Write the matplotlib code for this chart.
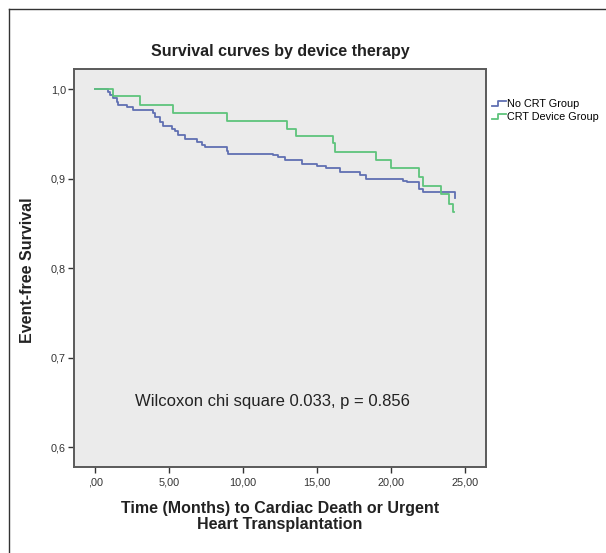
import matplotlib
matplotlib.use("Agg")
import matplotlib.pyplot as plt
from matplotlib.lines import Line2D
from matplotlib.legend_handler import HandlerBase

plt.rcParams["font.family"] = ["Liberation Sans", "DejaVu Sans"]

# Kaplan-Meier step values (time in months, survival after each step)
no_crt_time = [0.0, 0.88, 0.99, 1.22, 1.45, 1.56, 2.12, 2.57, 3.88, 4.04, 4.38, 4.60,
               5.17, 5.39, 5.62, 6.07, 6.86, 7.20, 7.42, 8.89, 9.00, 12.05, 12.38,
               12.84, 13.96, 14.98, 15.61, 16.56, 17.91, 18.32, 20.84, 21.07, 21.92,
               22.15, 24.34]
no_crt_surv = [1.000, 0.997, 0.994, 0.990, 0.986, 0.982, 0.980, 0.977, 0.973, 0.969,
               0.964, 0.959, 0.956, 0.953, 0.949, 0.945, 0.941, 0.938, 0.935, 0.931,
               0.928, 0.9265, 0.924, 0.921, 0.917, 0.914, 0.912, 0.908, 0.904, 0.900,
               0.897, 0.896, 0.889, 0.885, 0.878]

crt_time = [0.0, 1.22, 3.02, 5.28, 8.89, 12.95, 13.58, 16.06, 16.22, 18.99, 20.01,
            21.92, 22.15, 23.37, 23.95, 24.18, 24.29]
crt_surv = [1.000, 0.992, 0.983, 0.974, 0.965, 0.956, 0.948, 0.940, 0.930, 0.921,
            0.912, 0.902, 0.892, 0.883, 0.872, 0.863, 0.863]

group_labels = ["No CRT Group", "CRT Device Group"]
x_ticks = [0, 5, 10, 15, 20, 25]
x_tick_labels = [",00", "5,00", "10,00", "15,00", "20,00", "25,00"]
y_ticks = [0.6, 0.7, 0.8, 0.9, 1.0]
y_tick_labels = ["0,6", "0,7", "0,8", "0,9", "1,0"]

BLUE = "#6070b2"
GREEN = "#5ec47c"


class StepHandler(HandlerBase):
    # small step-shaped legend key like the SPSS one
    def create_artists(self, legend, orig_handle, xdescent, ydescent,
                       width, height, fontsize, trans):
        x0, y0 = -xdescent, -ydescent
        xs = [x0, x0 + width * 0.45, x0 + width * 0.45, x0 + width]
        ys = [y0 + height * 0.1, y0 + height * 0.1, y0 + height * 0.8, y0 + height * 0.8]
        line = Line2D(xs, ys, color=orig_handle.get_color(),
                      lw=orig_handle.get_linewidth(), transform=trans)
        return [line]


fig = plt.figure(figsize=(6.06, 5.53), dpi=100)
ax = fig.add_axes([0.1226, 0.1561, 0.6789, 0.7186])
ax.set_facecolor("#ebebeb")

l1, = ax.step(no_crt_time, no_crt_surv, where="post", color=BLUE, lw=1.3)
l2, = ax.step(crt_time, crt_surv, where="post", color=GREEN, lw=1.3)

ax.set_xlim(-1.42, 26.41)
ax.set_ylim(0.578, 1.0224)
ax.set_xticks(x_ticks)
ax.set_xticklabels(x_tick_labels)
ax.set_yticks(y_ticks)
ax.set_yticklabels(y_tick_labels)
ax.tick_params(direction="out", length=4.5, width=1.0, color="#333333",
               labelsize=7.8, labelcolor="#333333")
ax.tick_params(axis="x", pad=3)
ax.tick_params(axis="y", pad=1.5)

for sp in ax.spines.values():
    sp.set_color("#5a5a5a")
    sp.set_linewidth(1.4)

ax.text(2.7, 0.6506, "Wilcoxon chi square 0.033, p = 0.856", fontsize=12,
        color="#222222", va="center", ha="left")

ax.set_ylabel("Event-free Survival", fontsize=11.5, fontweight="bold", color="#222222")
ax.yaxis.set_label_coords(-0.0955, 0.495)
ax.set_xlabel("Time (Months) to Cardiac Death or Urgent\nHeart Transplantation",
              fontsize=11.5, fontweight="bold", color="#222222", linespacing=1.12)
ax.xaxis.label.set_va("center")
ax.xaxis.set_label_coords(0.5, -0.1253)

fig.text(0.462, 0.9065, "Survival curves by device therapy", fontsize=11.5,
         fontweight="bold", color="#222222", ha="center", va="center")

fig.legend([l1, l2], group_labels, loc="upper left",
           bbox_to_anchor=(0.8114, 0.8210), frameon=False, fontsize=7.8,
           handlelength=1.3, handletextpad=0.1, borderpad=0, borderaxespad=0,
           labelspacing=0.3, handler_map={Line2D: StepHandler()})

# outer frame (only left and top edges visible in the source)
fig.add_artist(Line2D([9.3 / 606, 9.3 / 606], [0, 1 - 9.3 / 553],
                      transform=fig.transFigure, color="#333333", lw=1.0))
fig.add_artist(Line2D([9.3 / 606, 1], [1 - 9.3 / 553, 1 - 9.3 / 553],
                      transform=fig.transFigure, color="#333333", lw=1.0))

fig.savefig("out.png", dpi=100)
plt.close(fig)
